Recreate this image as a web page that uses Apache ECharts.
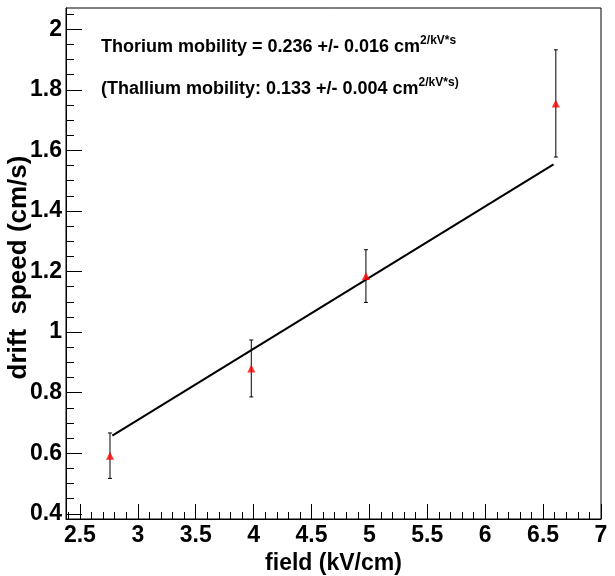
<!DOCTYPE html>
<html>
<head>
<meta charset="utf-8">
<script src="https://cdn.jsdelivr.net/npm/echarts@6/dist/echarts.min.js"></script>
<style>
  html, body { margin: 0; padding: 0; background: #fff; }
  #main { width: 615px; height: 576px; }
</style>
</head>
<body>
<div id="main"></div>
<script>
// measured points (field kV/cm, drift speed cm/s, error)
var fieldVals = [2.76, 3.98, 4.97, 6.61];
var speedVals = [0.592, 0.88, 1.185, 1.755];
var speedErrs = [0.075, 0.094, 0.087, 0.177];

// linear fit, drawn between its end points
var fitLine = [[2.78, 0.658], [6.59, 1.554]];

// axis ticks
var xMajor = [2.5, 3, 3.5, 4, 4.5, 5, 5.5, 6, 6.5, 7];
var xMinor = [2.4, 2.6, 2.7, 2.8, 2.9, 3.1, 3.2, 3.3, 3.4, 3.6, 3.7, 3.8, 3.9,
  4.1, 4.2, 4.3, 4.4, 4.6, 4.7, 4.8, 4.9, 5.1, 5.2, 5.3, 5.4, 5.6, 5.7, 5.8, 5.9,
  6.1, 6.2, 6.3, 6.4, 6.6, 6.7, 6.8, 6.9];
var yMajor = [0.4, 0.6, 0.8, 1, 1.2, 1.4, 1.6, 1.8, 2];
var yMinor = [0.45, 0.5, 0.55, 0.65, 0.7, 0.75, 0.85, 0.9, 0.95, 1.05, 1.1, 1.15,
  1.25, 1.3, 1.35, 1.45, 1.5, 1.55, 1.65, 1.7, 1.75, 1.85, 1.9, 1.95, 2.05];

var xMin = 2.38, xMax = 7;
var yMin = 0.383, yMax = 2.07;

var dom = document.getElementById('main');
var chart = echarts.init(dom);

var points = [], bars = [];
for (var i = 0; i < fieldVals.length; i++) {
    points.push([fieldVals[i], speedVals[i]]);
    bars.push([fieldVals[i], speedVals[i] - speedErrs[i], speedVals[i] + speedErrs[i]]);
}

var font = '"Liberation Sans", Arial, sans-serif';

function fmt(v) {
    return String(Math.round(v * 100) / 100);
}

var richTxt = {
    a: { fontFamily: font, fontWeight: 'bold', fontSize: 18, fill: '#000', lineHeight: 24 },
    s: { fontFamily: font, fontWeight: 'bold', fontSize: 12, fill: '#000', lineHeight: 8, verticalAlign: 'top' }
};

var option = {
    animation: false,
    backgroundColor: '#fff',
    grid: {
        left: 66, right: 14, top: 8, bottom: 57,
        containLabel: false, outerBoundsMode: 'none',
        show: true, borderColor: '#000', borderWidth: 1
    },
    xAxis: [{
        type: 'value', min: xMin, max: xMax,
        name: 'field (kV/cm)', nameLocation: 'middle', nameGap: 33, nameMoveOverlap: false,
        nameTextStyle: { fontFamily: font, fontWeight: 'bold', fontSize: 23, color: '#000' },
        axisLine: { show: true, onZero: false, lineStyle: { color: '#000', width: 1 } },
        axisTick: { show: true, inside: true, length: 15, customValues: xMajor, lineStyle: { color: '#000' } },
        axisLabel: {
            customValues: xMajor, formatter: fmt, margin: 5, hideOverlap: false,
            alignMinLabel: 'center', alignMaxLabel: 'center',
            fontFamily: font, fontWeight: 'bold', fontSize: 23, color: '#000'
        },
        splitLine: { show: false }
    }, {
        type: 'value', min: xMin, max: xMax, position: 'bottom',
        axisLine: { show: false },
        axisTick: { show: true, inside: true, length: 7, customValues: xMinor, lineStyle: { color: '#000' } },
        axisLabel: { show: false },
        splitLine: { show: false }
    }],
    yAxis: [{
        type: 'value', min: yMin, max: yMax,
        name: 'drift  speed (cm/s)', nameLocation: 'middle', nameGap: 34, nameMoveOverlap: false,
        nameTextStyle: { fontFamily: font, fontWeight: 'bold', fontSize: 26, color: '#000', padding: [0, 8, 0, 0] },
        axisLine: { show: true, onZero: false, lineStyle: { color: '#000', width: 1 } },
        axisTick: { show: true, inside: true, length: 16, customValues: yMajor, lineStyle: { color: '#000' } },
        axisLabel: {
            customValues: yMajor, formatter: fmt, margin: 4, hideOverlap: false,
            fontFamily: font, fontWeight: 'bold', fontSize: 23, color: '#000'
        },
        splitLine: { show: false }
    }, {
        type: 'value', min: yMin, max: yMax, position: 'left',
        axisLine: { show: false },
        axisTick: { show: true, inside: true, length: 8, customValues: yMinor, lineStyle: { color: '#000' } },
        axisLabel: { show: false },
        splitLine: { show: false }
    }],
    graphic: [{
        type: 'text', left: 101, top: 35,
        style: { text: '{a|Thorium mobility = 0.236 +/- 0.016 cm}{s|2/kV*s}', rich: richTxt }
    }, {
        type: 'text', left: 101, top: 77,
        style: { text: '{a|(Thallium mobility: 0.133 +/- 0.004 cm}{s|2/kV*s)}', rich: richTxt }
    }],
    series: [{
        name: 'fit',
        type: 'line',
        data: fitLine,
        symbol: 'none',
        lineStyle: { color: '#000', width: 2 },
        z: 3
    }, {
        name: 'errors',
        type: 'custom',
        data: bars,
        renderItem: function (params, api) {
            var lo = api.coord([api.value(0), api.value(1)]);
            var hi = api.coord([api.value(0), api.value(2)]);
            var cap = 2;
            var st = { stroke: '#000', lineWidth: 1 };
            return {
                type: 'group',
                children: [
                    { type: 'line', shape: { x1: lo[0], y1: lo[1], x2: hi[0], y2: hi[1] }, style: st },
                    { type: 'line', shape: { x1: lo[0] - cap, y1: lo[1], x2: lo[0] + cap, y2: lo[1] }, style: st },
                    { type: 'line', shape: { x1: hi[0] - cap, y1: hi[1], x2: hi[0] + cap, y2: hi[1] }, style: st }
                ]
            };
        },
        z: 4
    }, {
        name: 'data',
        type: 'scatter',
        data: points,
        symbol: 'triangle',
        symbolSize: 8,
        itemStyle: { color: '#ff0000' },
        z: 5
    }]
};

chart.setOption(option);
</script>
</body>
</html>
